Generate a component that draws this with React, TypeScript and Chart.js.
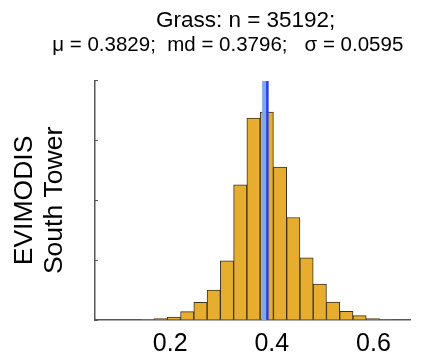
import React, { useEffect, useRef } from "react";
import { Chart, registerables } from "chart.js";

Chart.register(...registerables);

const titleLine1 = "             Grass: n = 35192;";
const titleLine2 = "        \u03bc = 0.3829;  md = 0.3796;   \u03c3 = 0.0595";
const yTitleLines = ["EVIMODIS", "South Tower"];

// histogram bin centres (EVI) and counts
const binCenters = [0.1552, 0.1813, 0.2074, 0.2335, 0.2596, 0.2857, 0.3118, 0.3379, 0.3640, 0.3901,
  0.4162, 0.4423, 0.4684, 0.4945, 0.5206, 0.5467, 0.5728, 0.5989, 0.6250];
const binCounts = [10, 45, 100, 280, 590, 1000, 1980, 4520, 6760, 6960,
  5120, 3430, 2080, 1200, 600, 290, 145, 45, 15];

const xTicks = [0.2, 0.4, 0.6];
const yTicks = [0, 2000, 4000, 6000, 8000];
const xMin = 0.052;
const xMax = 0.672;
const yMax = 8000;

const medianLineX = 0.3868;
const meanLineX = 0.3913;

export default function App() {
  const ref = useRef<HTMLCanvasElement | null>(null);
  useEffect(() => {
    if (!ref.current) return;
    const font = "'Liberation Sans', Arial, sans-serif";
    const chart = new Chart(ref.current, {
      type: "bar",
      data: {
        datasets: [
          {
            type: "line",
            data: [{ x: meanLineX, y: 0 }, { x: meanLineX, y: yMax }],
            borderColor: "#2f3fd8",
            borderWidth: 2.5,
            pointRadius: 0,
            order: 0,
          } as any,
          {
            type: "line",
            data: [{ x: medianLineX, y: 0 }, { x: medianLineX, y: yMax }],
            borderColor: "#7fa8f2",
            borderWidth: 6,
            pointRadius: 0,
            order: 1,
          } as any,
          {
            type: "bar",
            data: binCenters.map((x, i) => ({ x, y: binCounts[i] })),
            backgroundColor: "#e6ad2f",
            borderColor: "#3b3020",
            borderWidth: 1,
            barPercentage: 1,
            categoryPercentage: 1,
            order: 2,
          } as any,
        ],
      },
      options: {
        animation: false,
        responsive: false,
        devicePixelRatio: 1,
        layout: { padding: { left: 0, right: 33, top: 0, bottom: 0 } },
        plugins: {
          legend: { display: false },
          tooltip: { enabled: false },
          title: {
            display: true,
            text: titleLine1,
            color: "#000",
            font: { family: font, size: 22.5, weight: "normal", lineHeight: 1.08 },
            padding: { top: 9, bottom: 0 },
          },
          subtitle: {
            display: true,
            text: titleLine2,
            color: "#000",
            font: { family: font, size: 20.5, weight: "normal", lineHeight: 1.2 },
            padding: { top: 0, bottom: 23 },
          },
        },
        scales: {
          x: {
            type: "linear",
            offset: false,
            min: xMin,
            max: xMax,
            afterBuildTicks: (s: any) => {
              s.ticks = xTicks.map((v) => ({ value: v }));
            },
            afterFit: (s: any) => {
              s.height = 40;
            },
            grid: { display: false, drawTicks: false },
            border: { display: true, color: "#555", width: 1.5 },
            ticks: {
              color: "#000",
              padding: 9,
              font: { family: font, size: 25 },
              callback: (v: any) => String(v),
            },
          },
          y: {
            type: "linear",
            min: 0,
            max: yMax,
            afterBuildTicks: (s: any) => {
              s.ticks = yTicks.map((v) => ({ value: v }));
            },
            afterFit: (s: any) => {
              s.width = 95;
            },
            grid: { display: true, drawOnChartArea: false, drawTicks: true, tickLength: -3, color: "#555" },
            border: { display: true, color: "#555", width: 1.5 },
            ticks: { display: false },
            title: {
              display: true,
              text: yTitleLines,
              color: "#000",
              font: { family: font, size: 26.5, lineHeight: 1.13 },
              padding: { top: 10, bottom: 0 },
            },
          },
        },
      } as any,
    });
    return () => chart.destroy();
  }, []);
  return (
    <div style={{ position: "fixed", left: 0, top: 0, width: 443, height: 360, background: "#fff" }}>
      <canvas ref={ref} width={443} height={360} style={{ width: 443, height: 360 }} />
    </div>
  );
}
